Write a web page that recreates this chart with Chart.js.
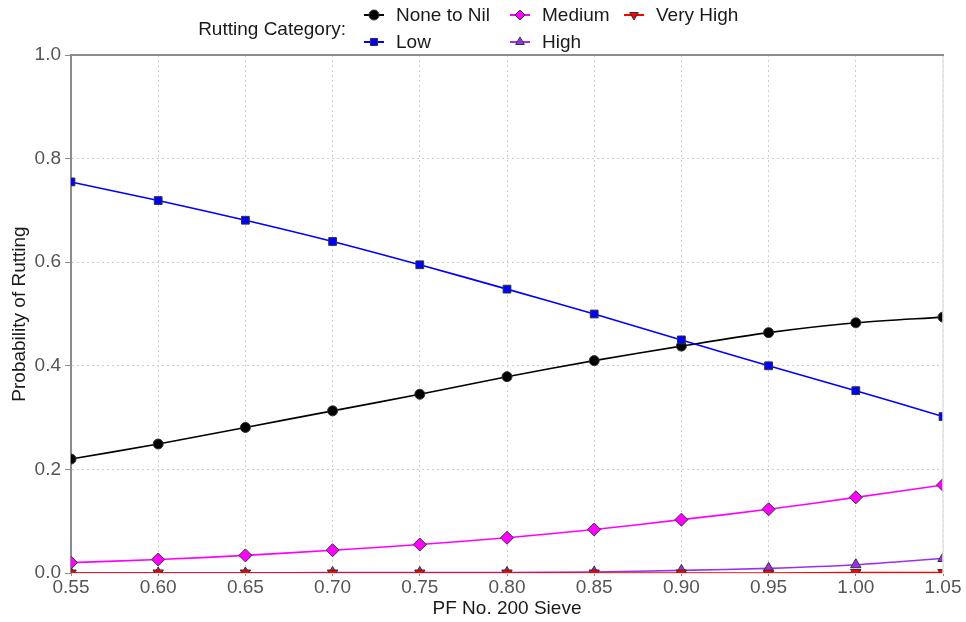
<!DOCTYPE html>
<html>
<head>
<meta charset="utf-8">
<script src="https://cdn.jsdelivr.net/npm/chart.js@4.4.1/dist/chart.umd.min.js"></script>
<style>
  html, body { margin: 0; padding: 0; background: #fff; }
  #wrap { width: 966px; height: 622px; }
</style>
</head>
<body>
<div id="wrap"><canvas id="chart" width="966" height="622"></canvas></div>
<script>
// PF No. 200 sieve values (x axis)
const pfLabels = ["0.55", "0.60", "0.65", "0.70", "0.75", "0.80", "0.85", "0.90", "0.95", "1.00", "1.05"];

// probability of rutting per category
const noneToNil = [0.220, 0.249, 0.281, 0.313, 0.345, 0.379, 0.410, 0.438, 0.464, 0.483, 0.494];
const low       = [0.755, 0.719, 0.681, 0.640, 0.595, 0.548, 0.500, 0.450, 0.400, 0.352, 0.302];
const medium    = [0.020, 0.026, 0.034, 0.044, 0.055, 0.068, 0.084, 0.103, 0.123, 0.146, 0.170];
const high      = [0.000, 0.000, 0.000, 0.001, 0.001, 0.001, 0.002, 0.005, 0.009, 0.016, 0.028];
const veryHigh  = [0.000, 0.000, 0.000, 0.000, 0.000, 0.000, 0.000, 0.000, 0.000, 0.001, 0.001];

const yTicks = [0, 0.2, 0.4, 0.6, 0.8, 1.0];

const FONT = "'Liberation Sans', Arial, Helvetica, sans-serif";
const FSIZE = 19;

function series(label, data, color, style, radius, rotation, order) {
  return {
    label: label,
    data: data,
    borderColor: color,
    backgroundColor: color,
    borderWidth: 1.6,
    pointStyle: style,
    pointRadius: radius,
    pointHoverRadius: radius,
    pointRotation: rotation || 0,
    pointBackgroundColor: color,
    pointBorderColor: "#333",
    pointBorderWidth: 1,
    tension: 0.3,
    clip: 0,
    order: order || 0
  };
}

const datasets = [
  series("None to Nil", noneToNil, "#000000", "circle", 5, 0, 1),
  series("Low", low, "#0000ff", "rect", 5.5, 0, 0),
  series("Medium", medium, "#ff00ff", "rectRot", 6.5, 0, 2),
  series("High", high, "#9b30f0", "triangle", 6, 0, 4),
  series("Very High", veryHigh, "#ff0000", "triangle", 6, 180, 3)
];

// legend laid out column by column like the original
const legendSpots = [
  { i: 0, x: 374, y: 15 },
  { i: 1, x: 374, y: 42 },
  { i: 2, x: 520, y: 15 },
  { i: 3, x: 520, y: 42 },
  { i: 4, x: 634, y: 15 }
];

const legendPlugin = {
  id: "colLegend",
  afterDraw(chart) {
    const ctx = chart.ctx;
    ctx.save();
    ctx.font = FSIZE + "px " + FONT;
    ctx.fillStyle = "#1a1a1a";
    ctx.textBaseline = "middle";
    ctx.textAlign = "right";
    ctx.fillText("Rutting Category:", 346, 30);
    ctx.textAlign = "left";
    legendSpots.forEach(s => {
      const ds = chart.data.datasets[s.i];
      ctx.strokeStyle = ds.borderColor;
      ctx.lineWidth = 2;
      ctx.beginPath();
      ctx.moveTo(s.x - 10, s.y);
      ctx.lineTo(s.x + 10, s.y);
      ctx.stroke();
      ctx.fillStyle = ds.pointBackgroundColor;
      ctx.strokeStyle = ds.pointBorderColor;
      ctx.lineWidth = 1;
      Chart.helpers.drawPoint(ctx, {
        pointStyle: ds.pointStyle,
        radius: 5,
        rotation: ds.pointRotation,
        borderWidth: 1
      }, s.x, s.y);
      ctx.fillStyle = "#1a1a1a";
      ctx.fillText(ds.label, s.x + 22, s.y + 1);
    });
    ctx.restore();
  }
};

// top and right frame lines
const framePlugin = {
  id: "frame",
  afterDatasetsDraw(chart) {
    const a = chart.chartArea;
    const ctx = chart.ctx;
    ctx.save();
    ctx.strokeStyle = "#e2e2e2";
    ctx.lineWidth = 1.5;
    ctx.beginPath();
    ctx.moveTo(a.right, a.top);
    ctx.lineTo(a.right, a.bottom);
    ctx.stroke();
    ctx.strokeStyle = "#8c8c8c";
    ctx.lineWidth = 2;
    ctx.beginPath();
    ctx.moveTo(a.left - 1, a.top);
    ctx.lineTo(a.right + 1, a.top);
    ctx.stroke();
    ctx.restore();
  }
};

new Chart(document.getElementById("chart"), {
  type: "line",
  data: { labels: pfLabels, datasets: datasets },
  options: {
    responsive: false,
    animation: false,
    layout: { padding: { top: 55, right: 23, left: 0, bottom: 0 } },
    plugins: { legend: { display: false }, tooltip: { enabled: false } },
    scales: {
      x: {
        type: "category",
        offset: false,
        grid: { color: "#cfcfcf", lineWidth: 1, tickLength: 3, tickColor: "#8c8c8c" },
        border: { display: true, color: "#e6e6e6", width: 1, dash: [2, 3] },
        ticks: { color: "#555", font: { family: FONT, size: FSIZE }, padding: 0, maxRotation: 0, autoSkip: false },
        title: { display: true, text: "PF No. 200 Sieve", color: "#1a1a1a",
                 font: { family: FONT, size: FSIZE }, padding: { top: 0, bottom: 2 } },
        afterFit(scale) { scale.height = 49; }
      },
      y: {
        min: 0, max: 1,
        afterBuildTicks(scale) { scale.ticks = yTicks.map(v => ({ value: v })); },
        grid: { color: "#cfcfcf", lineWidth: 1, tickLength: 6, tickColor: "#8c8c8c" },
        border: { display: true, color: "#8c8c8c", width: 2, dash: [2, 3] },
        ticks: { color: "#555", font: { family: FONT, size: FSIZE }, padding: 4,
                 callback: v => Number(v).toFixed(1) },
        title: { display: true, text: "Probability of Rutting", color: "#1a1a1a",
                 font: { family: FONT, size: FSIZE }, padding: { top: 8, bottom: 0 } },
        afterFit(scale) { scale.width = 71; }
      }
    }
  },
  plugins: [framePlugin, legendPlugin]
});
</script>
</body>
</html>
